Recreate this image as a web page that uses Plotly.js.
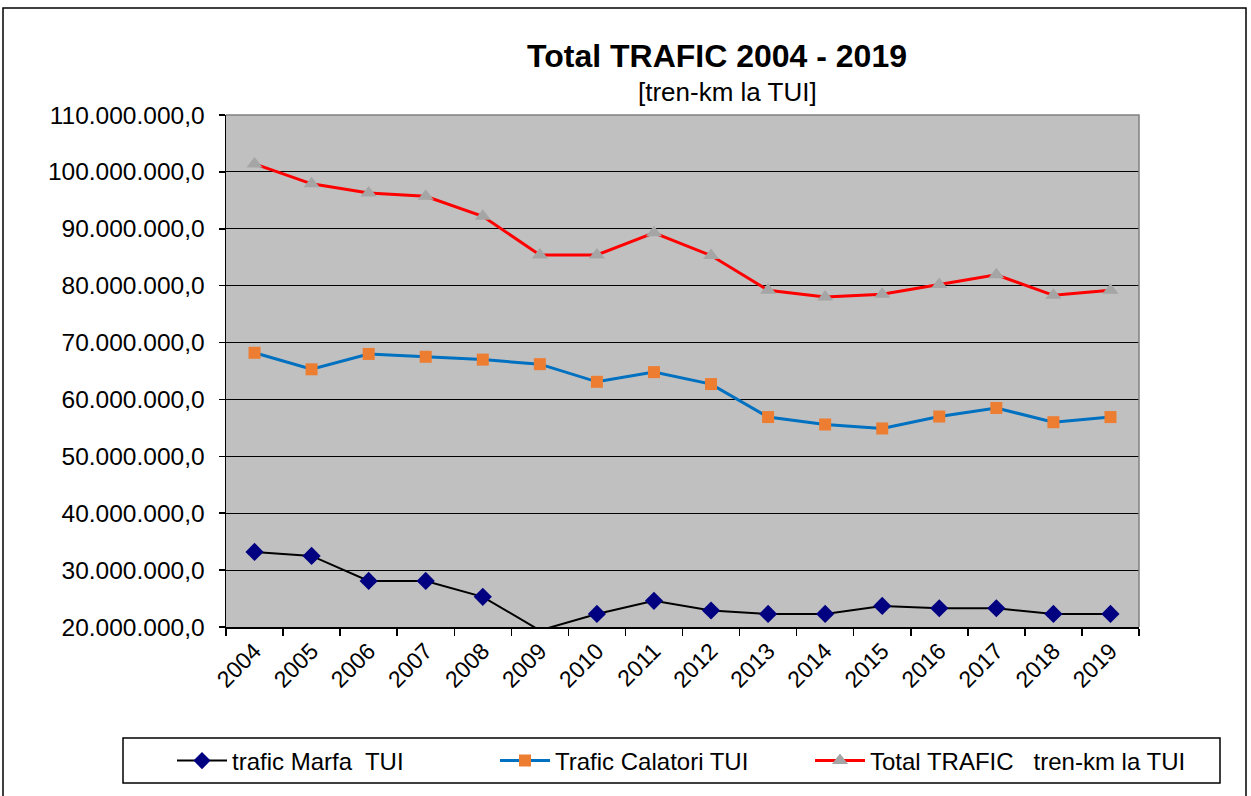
<!DOCTYPE html>
<html>
<head>
<meta charset="utf-8">
<script src="https://cdn.plot.ly/plotly-3.0.1.min.js"></script>
<style>
html,body{margin:0;padding:0;background:#fff;}
#chart{width:1251px;height:796px;}
</style>
</head>
<body>
<div id="chart"></div>
<script>
var years = ["2004","2005","2006","2007","2008","2009","2010","2011","2012","2013","2014","2015","2016","2017","2018","2019"];
var marfa = [33.2e6,32.5e6,28.1e6,28.1e6,25.3e6,19.4e6,22.3e6,24.6e6,22.9e6,22.3e6,22.3e6,23.7e6,23.3e6,23.3e6,22.3e6,22.3e6];
var calatori = [68.2e6,65.3e6,68.0e6,67.5e6,67.0e6,66.2e6,63.1e6,64.8e6,62.7e6,56.9e6,55.6e6,54.9e6,57.0e6,58.5e6,56.0e6,56.9e6];
var total = [101.4e6,97.9e6,96.3e6,95.7e6,92.2e6,85.4e6,85.4e6,89.3e6,85.3e6,79.2e6,78.0e6,78.5e6,80.2e6,81.9e6,78.3e6,79.2e6];
var seriesNames = ["trafic Marfa  TUI","Trafic Calatori TUI","Total TRAFIC   tren-km la TUI"];

var FONT = "Liberation Sans, Arial, sans-serif";
var Y_MIN = 20e6, Y_MAX = 110e6;
var L = 226, R = 1139, T = 115, B = 627, W = 1251, H = 796;
var pw = R - L, ph = B - T;
function px(x){ return (x - L) / pw; }
function py(y){ return (B - y) / ph; }
// like the spreadsheet, points outside the axis range show no marker
function sizes(vals, s){ return vals.map(function(v){ return (v < Y_MIN || v > Y_MAX) ? 0 : s; }); }

function mk(symbol, sz, vals, color){
  return {symbol: symbol, size: sizes(vals, sz), sizemode: "diameter", color: color, opacity: 1, line: {width: 0, color: color}};
}

var traces = [
  {x: years, y: marfa, name: seriesNames[0], type: "scatter", mode: "lines+markers", legend: "legend",
   line: {color: "#000000", width: 2}, marker: mk("diamond", 14, marfa, "#000080")},
  {x: years, y: calatori, name: seriesNames[1], type: "scatter", mode: "lines+markers", legend: "legend2",
   line: {color: "#0070C0", width: 3}, marker: mk("square", 12, calatori, "#ED7D31")},
  {x: years, y: total, name: seriesNames[2], type: "scatter", mode: "lines+markers", legend: "legend3",
   line: {color: "#FF0000", width: 3}, marker: mk("triangle-up", 14, total, "#A5A5A5")}
];

function legendAt(xpix){
  return {
    orientation: "h", xref: "paper", yref: "paper",
    x: px(xpix), xanchor: "left", y: py(761), yanchor: "middle",
    bgcolor: "rgba(0,0,0,0)", borderwidth: 0,
    font: {family: FONT, size: 24, color: "#000"},
    itemwidth: 50
  };
}

var layout = {
  width: W, height: H,
  margin: {l: L, r: W - R, t: T, b: H - B, pad: 0},
  paper_bgcolor: "#ffffff",
  plot_bgcolor: "#C0C0C0",
  separators: ",.",
  font: {family: FONT, color: "#000000"},
  showlegend: true,
  title: {text: "<b>Total TRAFIC 2004 - 2019</b>", font: {family: FONT, size: 32, color: "#000"},
          x: 717 / W, xanchor: "center", xref: "container", y: 1 - 56 / H, yanchor: "middle", yref: "container"},
  annotations: [
    {text: "[tren-km la TUI]", xref: "paper", yref: "paper", x: px(727), y: py(92), xanchor: "center", yanchor: "middle",
     showarrow: false, font: {family: FONT, size: 26, color: "#000"}}
  ],
  xaxis: {
    type: "category", range: [-0.5, 15.5], autorange: false, tickson: "boundaries",
    ticks: "outside", ticklen: 7, tickwidth: 1.5, tickcolor: "#000",
    showline: true, linecolor: "#000", linewidth: 1.5, showgrid: false, zeroline: false,
    tickangle: -45, tickfont: {family: FONT, size: 23, color: "#000"}, fixedrange: true
  },
  yaxis: {
    range: [Y_MIN, Y_MAX], autorange: false, dtick: 10e6, tick0: 0, tickformat: ",.1f",
    ticks: "outside", ticklen: 6, tickwidth: 1.5, tickcolor: "#000",
    showline: true, linecolor: "#000", linewidth: 1.5,
    showgrid: true, gridcolor: "#000000", gridwidth: 1.2, zeroline: false,
    tickfont: {family: FONT, size: 24.5, color: "#000"}, ticklabelstandoff: 9, fixedrange: true
  },
  legend: legendAt(172),
  legend2: legendAt(495),
  legend3: legendAt(810),
  shapes: [
    {type: "path", xref: "paper", yref: "paper", path: "M 0 1 L 1 1 L 1 0", line: {color: "#808080", width: 1.5}, layer: "above"},
    {type: "rect", xref: "paper", yref: "paper", x0: px(3), x1: px(1246), y0: py(830), y1: py(8), line: {color: "#000", width: 1.5}, fillcolor: "rgba(0,0,0,0)"},
    {type: "rect", xref: "paper", yref: "paper", x0: px(123), x1: px(1220), y0: py(783), y1: py(738), line: {color: "#000", width: 1.5}, fillcolor: "rgba(0,0,0,0)"}
  ]
};

Plotly.newPlot("chart", traces, layout, {displayModeBar: false, staticPlot: true});
</script>
</body>
</html>
